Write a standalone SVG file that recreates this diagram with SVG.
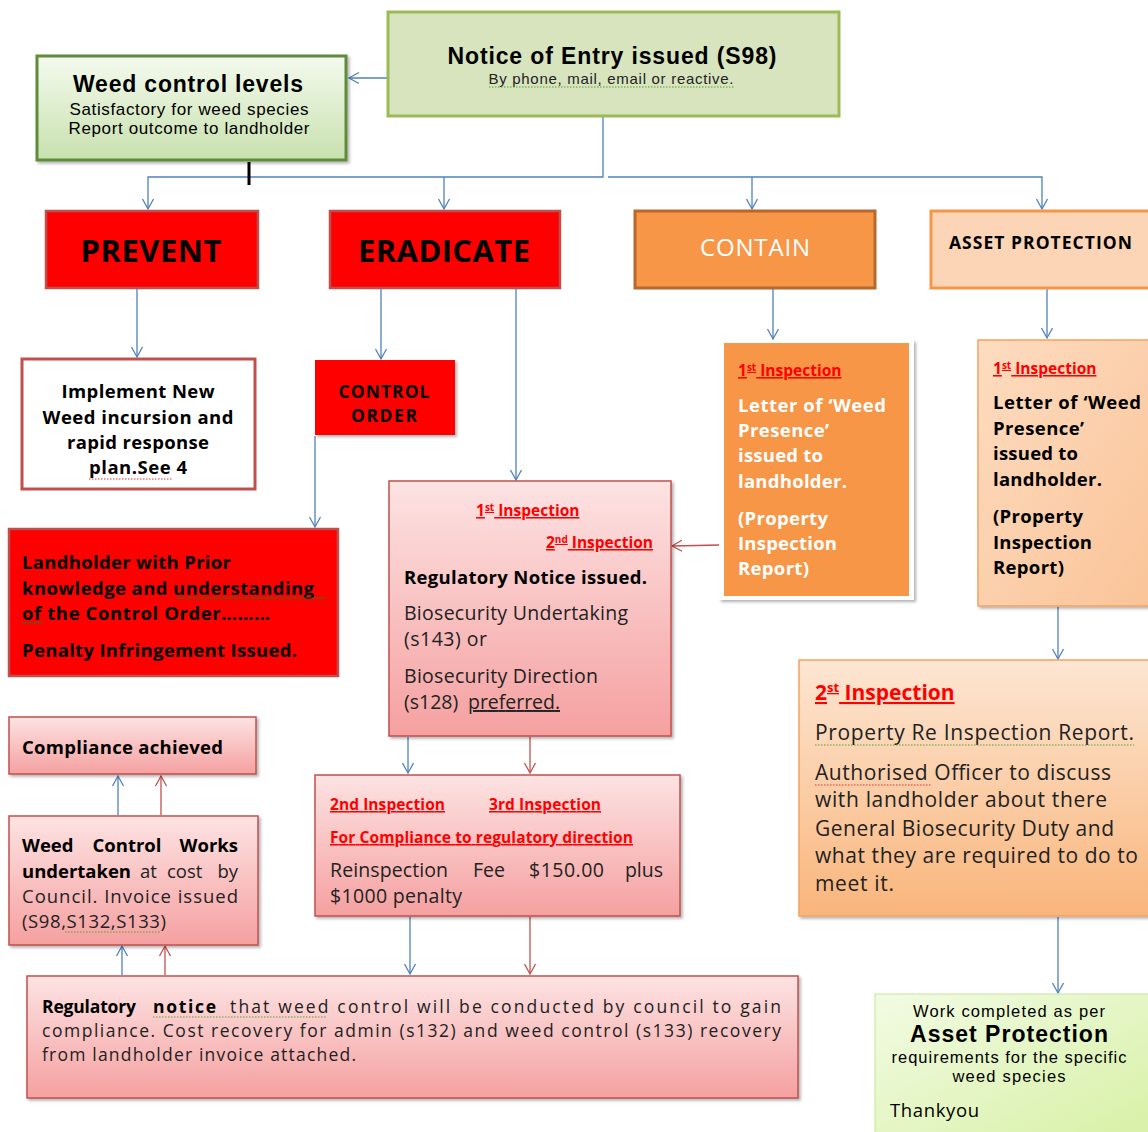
<svg xmlns="http://www.w3.org/2000/svg" width="1148" height="1132" viewBox="0 0 1148 1132">
<defs>
<style>
.c{font-family:"Open Sans","Liberation Sans",sans-serif}
.a{font-family:"Liberation Sans",Arial,sans-serif}
.b{font-weight:bold}
.red{fill:#ff0000;font-weight:bold;text-decoration:underline}
.bl{fill:none;stroke:#4f81bd;stroke-width:1.3}
.rd{fill:none;stroke:#c0504d;stroke-width:1.3}
.sq{fill:none;stroke:#5aa02c;stroke-width:1;stroke-dasharray:1.5 1.5}
.sqr{fill:none;stroke:#e03030;stroke-width:1;stroke-dasharray:1.5 1.5}
</style>
<linearGradient id="gWeed" x1="0" y1="0" x2="0" y2="1"><stop offset="0" stop-color="#f4faee"/><stop offset="1" stop-color="#c8e1ae"/></linearGradient>
<linearGradient id="gPink" x1="0" y1="0" x2="0" y2="1"><stop offset="0" stop-color="#fde3e3"/><stop offset="1" stop-color="#f5a0a0"/></linearGradient>
<linearGradient id="gAsset" x1="0" y1="0" x2="1" y2="1"><stop offset="0" stop-color="#fddcc0"/><stop offset="1" stop-color="#fac397"/></linearGradient>
<linearGradient id="g2nd" x1="0" y1="0" x2="0" y2="1"><stop offset="0" stop-color="#fde6d3"/><stop offset="1" stop-color="#f9b57b"/></linearGradient>
<linearGradient id="gWork" x1="0" y1="0" x2="1" y2="1"><stop offset="0" stop-color="#f2fbe3"/><stop offset="1" stop-color="#d6f0a3"/></linearGradient>
<filter id="sh" x="-5%" y="-5%" width="112%" height="115%"><feDropShadow dx="2" dy="2" stdDeviation="1.5" flood-color="#000" flood-opacity="0.3"/></filter>
<marker id="ab" viewBox="-12 -7 14 14" refX="0" refY="0" markerWidth="14" markerHeight="14" markerUnits="userSpaceOnUse" orient="auto"><path d="M-10,-5.5 L0,0 L-10,5.5" fill="none" stroke="#4f81bd" stroke-width="1.3"/></marker>
<marker id="ar" viewBox="-12 -7 14 14" refX="0" refY="0" markerWidth="14" markerHeight="14" markerUnits="userSpaceOnUse" orient="auto"><path d="M-10,-5.5 L0,0 L-10,5.5" fill="none" stroke="#c0504d" stroke-width="1.3"/></marker>
</defs>
<rect width="1148" height="1132" fill="#ffffff"/>

<g id="connectors">
<path class="bl" d="M387,78 H349" marker-end="url(#ab)"/>
<path class="bl" d="M603,116 V177 H148 V209" marker-end="url(#ab)"/>
<path class="bl" d="M444,177 V209" marker-end="url(#ab)"/>
<path class="bl" d="M608,177 H1042 V209" marker-end="url(#ab)"/>
<path class="bl" d="M752,177 V209" marker-end="url(#ab)"/>
<path d="M249,162 V185" stroke="#000" stroke-width="3" fill="none"/>
<path class="bl" d="M137,289 V357" marker-end="url(#ab)"/>
<path class="bl" d="M381,289 V359" marker-end="url(#ab)"/>
<path class="bl" d="M516,289 V480" marker-end="url(#ab)"/>
<path class="bl" d="M315,436 V527" marker-end="url(#ab)"/>
<path class="bl" d="M773,289 V339" marker-end="url(#ab)"/>
<path class="bl" d="M1047,289 V338" marker-end="url(#ab)"/>
<path class="rd" d="M720,545 L672,546" marker-end="url(#ar)"/>
<path class="bl" d="M1058,607 V659" marker-end="url(#ab)"/>
<path class="bl" d="M1058,917 V993" marker-end="url(#ab)"/>
<path class="bl" d="M408,737 V773" marker-end="url(#ab)"/>
<path class="rd" d="M530,737 V773" marker-end="url(#ar)"/>
<path class="bl" d="M410,917 V974" marker-end="url(#ab)"/>
<path class="rd" d="M530,917 V974" marker-end="url(#ar)"/>
<path class="bl" d="M122,975 V946" marker-end="url(#ab)"/>
<path class="rd" d="M165,975 V946" marker-end="url(#ar)"/>
<path class="bl" d="M118,815 V776" marker-end="url(#ab)"/>
<path class="rd" d="M161,815 V776" marker-end="url(#ar)"/>
</g>

<g id="notice">
<rect x="388" y="12" width="451" height="104" fill="#d7e4bd" stroke="#9bbb59" stroke-width="3"/>
<text class="a b" x="612" y="64" font-size="23" text-anchor="middle" textLength="329" lengthAdjust="spacing">Notice of Entry issued (S98)</text>
<text class="a" x="611" y="84" font-size="15" text-anchor="middle" fill="#222" textLength="245" lengthAdjust="spacing">By phone, mail, email or reactive.</text>
<path class="sq" d="M489,87 H734"/>
</g>

<g id="weed-control-levels">
<rect x="37" y="56" width="309" height="104" fill="url(#gWeed)" stroke="#5e8c3a" stroke-width="3" filter="url(#sh)"/>
<text class="a b" x="188" y="92" font-size="23" text-anchor="middle" textLength="230" lengthAdjust="spacing">Weed control levels</text>
<text class="a" x="189" y="115" font-size="17" text-anchor="middle" textLength="239" lengthAdjust="spacing">Satisfactory for weed species</text>
<text class="a" x="189" y="134" font-size="17" text-anchor="middle" textLength="241" lengthAdjust="spacing">Report outcome to landholder</text>
</g>

<g id="prevent">
<rect x="46" y="211" width="212" height="77" fill="#ff0000" stroke="#c0504d" stroke-width="2.5"/>
<text class="c b" x="151" y="262" font-size="31" text-anchor="middle" textLength="141" lengthAdjust="spacing">PREVENT</text>
</g>

<g id="eradicate">
<rect x="330" y="211" width="230" height="77" fill="#ff0000" stroke="#c0504d" stroke-width="2.5"/>
<text class="c b" x="444" y="262" font-size="31" text-anchor="middle" textLength="172" lengthAdjust="spacing">ERADICATE</text>
</g>

<g id="contain">
<rect x="635" y="211" width="240" height="77" fill="#f79646" stroke="#b5692e" stroke-width="3"/>
<text class="c" x="755" y="256" font-size="24" text-anchor="middle" fill="#ffffff" textLength="110" lengthAdjust="spacing">CONTAIN</text>
</g>

<g id="asset-protection">
<rect x="931" y="211" width="225" height="77" fill="#fbd5b5" stroke="#f79646" stroke-width="3"/>
<text class="c b" x="949" y="249" font-size="17.5" textLength="183" lengthAdjust="spacing">ASSET PROTECTION</text>
</g>

<g id="implement">
<rect x="22" y="359" width="233" height="130" fill="#ffffff" stroke="#c0504d" stroke-width="3"/>
<g class="c b" font-size="18.5" text-anchor="middle">
<text x="138" y="398" textLength="153" lengthAdjust="spacing">Implement New</text>
<text x="138" y="424" textLength="191" lengthAdjust="spacing">Weed incursion and</text>
<text x="138" y="449" textLength="142" lengthAdjust="spacing">rapid response</text>
<text x="138" y="474" textLength="98" lengthAdjust="spacing">plan.See 4</text>
</g>
<path class="sqr" d="M89,479 H172"/>
</g>

<g id="control-order">
<rect x="315" y="360" width="140" height="75" fill="#ff0000" filter="url(#sh)"/>
<g class="c b" font-size="17.5" text-anchor="middle">
<text x="384" y="398" textLength="91" lengthAdjust="spacing">CONTROL</text>
<text x="384" y="422" textLength="66" lengthAdjust="spacing">ORDER</text>
</g>
</g>

<g id="landholder">
<rect x="9" y="529" width="329" height="147" fill="#ff0000" stroke="#c0504d" stroke-width="2.5"/>
<g class="c b" font-size="18.5">
<text x="22" y="569" textLength="209" lengthAdjust="spacing">Landholder with  Prior</text>
<text x="22" y="595" textLength="292" lengthAdjust="spacing">knowledge and understanding</text>
<text x="22" y="620" textLength="248" lengthAdjust="spacing">of the Control Order………</text>
<text x="22" y="657" textLength="275" lengthAdjust="spacing">Penalty Infringement Issued.</text>
</g>
<path d="M176,598 H326 M22,623 H42" stroke="#3a6a1a" stroke-width="1" fill="none"/>
</g>

<g id="regulatory-notice-issued">
<rect x="389" y="481" width="282" height="255" fill="url(#gPink)" stroke="#c0504d" stroke-width="1.5" filter="url(#sh)"/>
<text class="c red" x="476" y="516" font-size="15.5">1<tspan font-size="10" dy="-5">st</tspan><tspan dy="5"> Inspection</tspan></text>
<text class="c red" x="653" y="548" font-size="15.5" text-anchor="end">2<tspan font-size="10" dy="-5">nd</tspan><tspan dy="5"> Inspection</tspan></text>
<text class="c b" x="404" y="584" font-size="18.5" textLength="243" lengthAdjust="spacing">Regulatory Notice issued.</text>
<g class="c" font-size="19.5" fill="#222">
<text x="404" y="620" textLength="224" lengthAdjust="spacing">Biosecurity Undertaking</text>
<text x="404" y="646" textLength="83" lengthAdjust="spacing">(s143) or</text>
<text x="404" y="683" textLength="194" lengthAdjust="spacing">Biosecurity Direction</text>
<text x="404" y="709">(s128)</text>
<text x="468" y="709" textLength="92" lengthAdjust="spacing" text-decoration="underline">preferred.</text>
</g>
</g>

<g id="contain-inspection">
<rect x="719" y="340" width="195" height="260" fill="#ffffff" filter="url(#sh)"/>
<rect x="724" y="343" width="185" height="253" fill="#f79646"/>
<text class="c red" x="738" y="376" font-size="15.5">1<tspan font-size="10" dy="-5">st</tspan><tspan dy="5"> Inspection</tspan></text>
<g class="c b" font-size="18.5" fill="#ffffff">
<text x="738" y="412" textLength="148" lengthAdjust="spacing">Letter of ‘Weed</text>
<text x="738" y="437" textLength="91" lengthAdjust="spacing">Presence’</text>
<text x="738" y="462" textLength="85" lengthAdjust="spacing">issued to</text>
<text x="738" y="488" textLength="109" lengthAdjust="spacing">landholder.</text>
<text x="738" y="525" textLength="90" lengthAdjust="spacing">(Property</text>
<text x="738" y="550" textLength="99" lengthAdjust="spacing">Inspection</text>
<text x="738" y="575" textLength="71" lengthAdjust="spacing">Report)</text>
</g>
</g>

<g id="asset-inspection">
<rect x="978" y="340" width="180" height="266" fill="url(#gAsset)" stroke="#f5a261" stroke-width="1.5" filter="url(#sh)"/>
<text class="c red" x="993" y="374" font-size="15.5">1<tspan font-size="10" dy="-5">st</tspan><tspan dy="5"> Inspection</tspan></text>
<g class="c b" font-size="18.5" fill="#000">
<text x="993" y="409" textLength="148" lengthAdjust="spacing">Letter of ‘Weed</text>
<text x="993" y="435" textLength="91" lengthAdjust="spacing">Presence’</text>
<text x="993" y="460" textLength="85" lengthAdjust="spacing">issued to</text>
<text x="993" y="486" textLength="109" lengthAdjust="spacing">landholder.</text>
<text x="993" y="523" textLength="90" lengthAdjust="spacing">(Property</text>
<text x="993" y="549" textLength="99" lengthAdjust="spacing">Inspection</text>
<text x="993" y="574" textLength="71" lengthAdjust="spacing">Report)</text>
</g>
</g>

<g id="second-inspection">
<rect x="799" y="660" width="360" height="256" fill="url(#g2nd)" stroke="#f5a261" stroke-width="1.5" filter="url(#sh)"/>
<text class="c red" x="815" y="700" font-size="21">2<tspan font-size="13" dy="-8">st</tspan><tspan dy="8"> Inspection</tspan></text>
<g class="c" font-size="21" fill="#222">
<text x="815" y="740" textLength="319" lengthAdjust="spacing">Property Re Inspection Report.</text>
<text x="815" y="780" textLength="296" lengthAdjust="spacing">Authorised Officer to discuss</text>
<text x="815" y="807" textLength="292" lengthAdjust="spacing">with landholder about there</text>
<text x="815" y="836" textLength="299" lengthAdjust="spacing">General Biosecurity Duty and</text>
<text x="815" y="863" textLength="323" lengthAdjust="spacing">what they are required to do to</text>
<text x="815" y="891" textLength="79" lengthAdjust="spacing">meet it.</text>
</g>
<path class="sq" d="M815,745 H1134"/>
<path class="sqr" d="M815,785 H932"/>
</g>

<g id="work-completed">
<rect x="875" y="994" width="290" height="150" fill="url(#gWork)" stroke="#c3e59a" stroke-width="1"/>
<text class="a" x="1009" y="1017" font-size="16.5" text-anchor="middle" textLength="192" lengthAdjust="spacing">Work completed as per</text>
<text class="a b" x="1009" y="1042" font-size="23" text-anchor="middle" textLength="198" lengthAdjust="spacing">Asset Protection</text>
<text class="a" x="1009" y="1063" font-size="16.5" text-anchor="middle" textLength="235" lengthAdjust="spacing">requirements for the specific</text>
<text class="a" x="1009" y="1082" font-size="16.5" text-anchor="middle" textLength="113" lengthAdjust="spacing">weed species</text>
<text class="c" x="890" y="1117" font-size="18.5" textLength="89" lengthAdjust="spacing">Thankyou</text>
</g>

<g id="reinspection">
<rect x="315" y="775" width="365" height="141" fill="url(#gPink)" stroke="#c0504d" stroke-width="1.5" filter="url(#sh)"/>
<text class="c red" x="330" y="810" font-size="15.5" textLength="115" lengthAdjust="spacing">2nd Inspection</text>
<text class="c red" x="489" y="810" font-size="15.5" textLength="112" lengthAdjust="spacing">3rd Inspection</text>
<text class="c red" x="330" y="843" font-size="15.5" textLength="303" lengthAdjust="spacing">For Compliance to regulatory direction</text>
<g class="c" font-size="19.5" fill="#222">
<text x="330" y="877" textLength="118" lengthAdjust="spacing">Reinspection</text>
<text x="473" y="877" textLength="32" lengthAdjust="spacing">Fee</text>
<text x="529" y="877" textLength="75" lengthAdjust="spacing">$150.00</text>
<text x="663" y="877" text-anchor="end">plus</text>
<text x="330" y="903" textLength="132" lengthAdjust="spacing">$1000 penalty</text>
</g>
</g>

<g id="regulatory-notice">
<rect x="27" y="976" width="771" height="122" fill="url(#gPink)" stroke="#c0504d" stroke-width="1.5" filter="url(#sh)"/>
<g class="c" font-size="17.5" fill="#222">
<text class="b" x="42" y="1013" fill="#000" textLength="94" lengthAdjust="spacing">Regulatory</text>
<text class="b" x="153" y="1013" fill="#000" textLength="63" lengthAdjust="spacing">notice</text>
<text x="230" y="1013" textLength="551" lengthAdjust="spacing">that weed control will be conducted by council to gain</text>
<text x="42" y="1037" textLength="739" lengthAdjust="spacing">compliance. Cost recovery for admin (s132) and weed control (s133) recovery</text>
<text x="42" y="1061" textLength="314" lengthAdjust="spacing">from landholder invoice attached.</text>
</g>
<path class="sq" d="M153,1017 H327"/>
</g>

<g id="weed-control-works">
<rect x="9" y="816" width="249" height="129" fill="url(#gPink)" stroke="#c0504d" stroke-width="1.5" filter="url(#sh)"/>
<g class="c" font-size="18.5" fill="#222">
<text class="b" x="22" y="852" fill="#000">Weed</text>
<text class="b" x="127" y="852" fill="#000" text-anchor="middle">Control</text>
<text class="b" x="238" y="852" fill="#000" text-anchor="end">Works</text>
<text class="b" x="22" y="878" fill="#000" textLength="109" lengthAdjust="spacing">undertaken</text>
<text x="140" y="878">at</text>
<text x="167" y="878">cost</text>
<text x="238" y="878" text-anchor="end">by</text>
<text x="22" y="903" textLength="216" lengthAdjust="spacing">Council. Invoice issued</text>
<text x="22" y="928" textLength="144" lengthAdjust="spacing">(S98,S132,S133)</text>
</g>
<path class="sq" d="M65,932 H160"/>
</g>

<g id="compliance">
<rect x="9" y="717" width="247" height="57" fill="url(#gPink)" stroke="#c0504d" stroke-width="1.5" filter="url(#sh)"/>
<text class="c b" x="22" y="754" font-size="18.5" textLength="201" lengthAdjust="spacing">Compliance achieved</text>
</g>
</svg>
